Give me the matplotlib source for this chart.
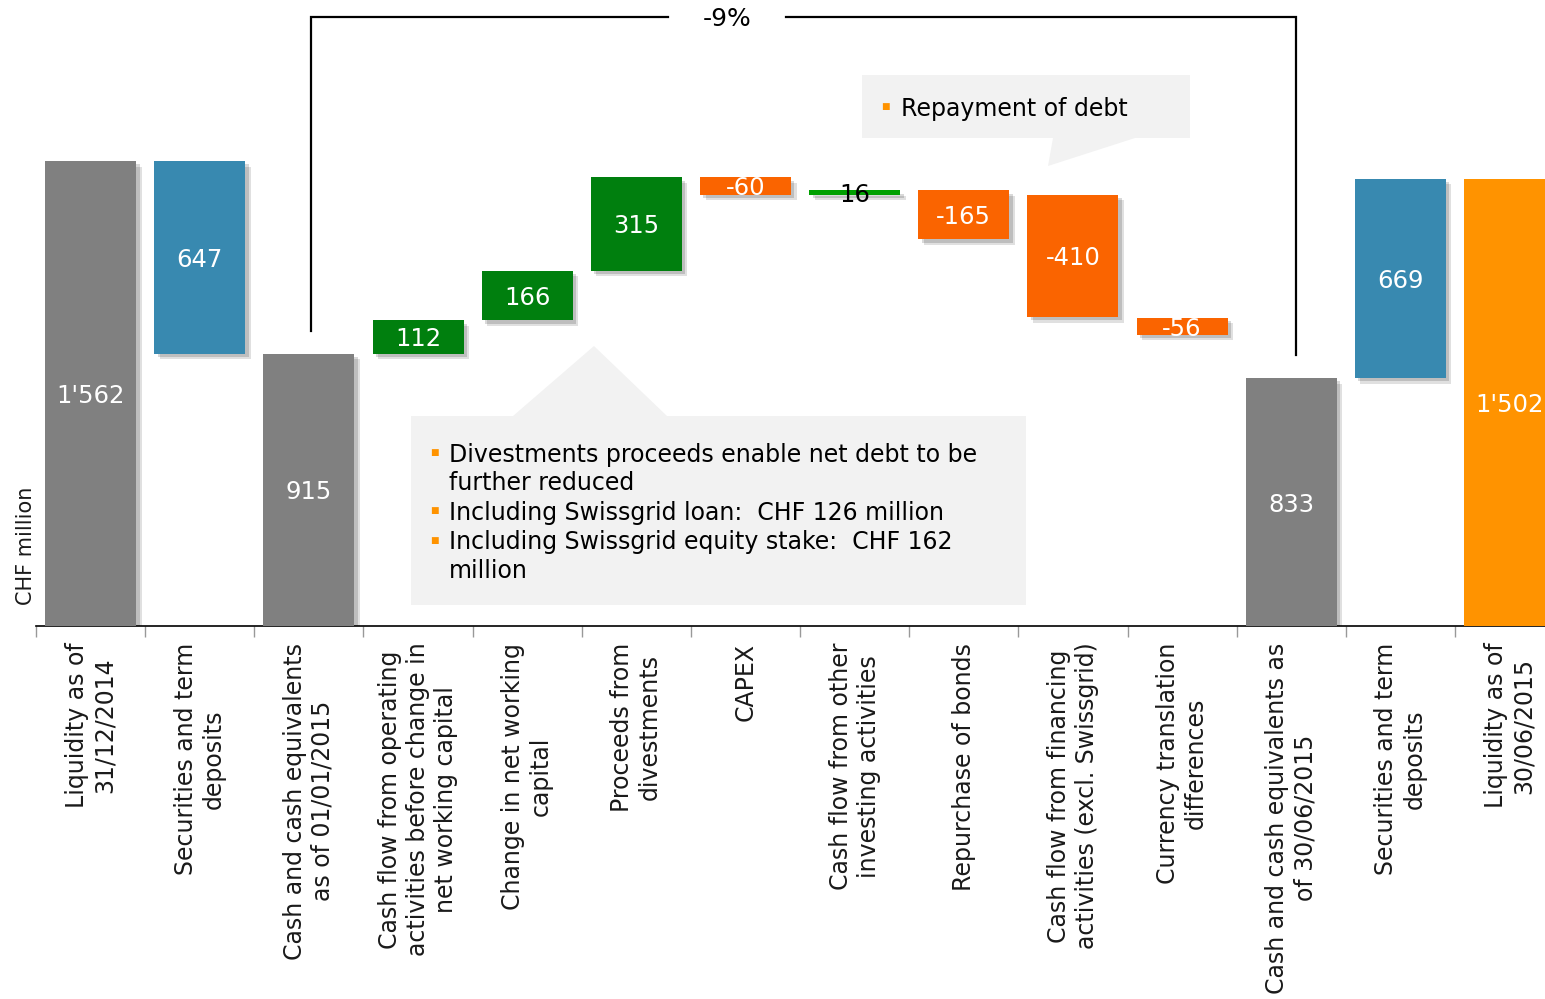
import matplotlib
matplotlib.use("Agg")
import matplotlib.pyplot as plt
import matplotlib.patheffects as pe
from matplotlib.patches import Polygon

# ---------------- data ----------------
categories = [
    "Liquidity as of\n31/12/2014",
    "Securities and term\ndeposits",
    "Cash and cash equivalents\nas of 01/01/2015",
    "Cash flow from operating\nactivities before change in\nnet working capital",
    "Change in net working\ncapital",
    "Proceeds from\ndivestments",
    "CAPEX",
    "Cash flow from other\ninvesting activities",
    "Repurchase of bonds",
    "Cash flow from financing\nactivities (excl. Swissgrid)",
    "Currency translation\ndifferences",
    "Cash and cash equivalents as\nof 30/06/2015",
    "Securities and term\ndeposits",
    "Liquidity as of\n30/06/2015",
]
values = [1562, 647, 915, 112, 166, 315, -60, 16, -165, -410, -56, 833, 669, 1502]
value_labels = ["1'562", "647", "915", "112", "166", "315", "-60", "16",
                "-165", "-410", "-56", "833", "669", "1'502"]
# bar extents as drawn in the reference (low, high)
bar_low = [0, 915, 0, 915, 1027, 1193, 1448, 1448, 1299, 1038, 979, 0, 833, 0]
bar_high = [1562, 1562, 915, 1027, 1193, 1508, 1508, 1464, 1464, 1448, 1035, 833, 1502, 1502]
kinds = ["total", "sec", "total", "pos", "pos", "pos", "neg", "pos_line",
         "neg", "neg", "neg", "total", "sec", "final"]
change_label = "-9%"

colors = {
    "total": "#808080",
    "sec": "#3889B0",
    "pos": "#007F0E",
    "pos_line": "#00A000",
    "neg": "#FA6400",
    "final": "#FF9300",
}

# ---------------- figure ----------------
W, H = 1545, 999
fig = plt.figure(figsize=(W / 100, H / 100), dpi=100)
plt.rcParams["font.family"] = ["DejaVu Sans"]

px_per_cat = 109.15
px_per_unit = 0.2977
ax_left_px, ax_base_px = 36, 626
ax = fig.add_axes([ax_left_px / W, (H - ax_base_px) / H,
                   (W - ax_left_px) / W, ax_base_px / H])

for s in ["top", "right", "left"]:
    ax.spines[s].set_visible(False)
ax.spines["bottom"].set_color("black")
ax.spines["bottom"].set_linewidth(1.2)
ax.set_yticks([])

xs = list(range(len(categories)))
ax.set_xticks(xs)
ax.set_xticklabels(categories, rotation=90, fontsize=17, color="#1a1a1a",
                   ha="center", va="top", multialignment="center")
ax.tick_params(axis="x", which="major", length=0, pad=12)
ax.set_xticks([x - 0.5 for x in xs], minor=True)
ax.tick_params(axis="x", which="minor", length=8, color="#999999", width=1)

shadow = [pe.SimplePatchShadow(offset=(4, -4), shadow_rgbFace="black", alpha=0.12),
          pe.SimplePatchShadow(offset=(2.5, -2.5), shadow_rgbFace="black", alpha=0.15),
          pe.Normal()]

bw = 91 / px_per_cat
for x, lo, hi, k, lab in zip(xs, bar_low, bar_high, kinds, value_labels):
    b = ax.bar(x, hi - lo, bottom=lo, width=bw, color=colors[k], zorder=3)
    for p in b:
        p.set_path_effects(shadow)
    tc = "black" if k == "pos_line" else "white"
    ax.text(x, (lo + hi) / 2, lab, ha="center", va="center_baseline", fontsize=17.5,
            color=tc, zorder=5)

ax.set_xlim(-0.5, -0.5 + (W - ax_left_px) / px_per_cat)
ax.set_ylim(0, ax_base_px / px_per_unit)

# -9% bracket
ytop = (ax_base_px - 17) / px_per_unit
lx, rx = 2.02, 11.04
ax.plot([lx, lx, 5.29], [bar_high[2] + 75, ytop, ytop], color="black", lw=1.6,
        clip_on=False, zorder=4, solid_joinstyle="miter")
ax.plot([6.37, rx, rx], [ytop, ytop, bar_high[11] + 77], color="black", lw=1.6,
        clip_on=False, zorder=4, solid_joinstyle="miter")
ax.text(5.83, ytop, change_label, ha="center", va="center_baseline", fontsize=18,
        color="black")


# ---------------- callouts ----------------
def fp(x, y):
    return (x / W, 1 - y / H)


box1 = [(411, 605), (1026, 605), (1026, 416), (667, 416), (594, 346), (513, 416), (411, 416)]
fig.patches.append(Polygon([fp(*p) for p in box1], closed=True, transform=fig.transFigure,
                           facecolor="#F2F2F2", edgecolor="none", zorder=1))
box2 = [(862, 75), (1190, 75), (1190, 138), (1135, 138), (1048, 166), (1053, 138), (862, 138)]
fig.patches.append(Polygon([fp(*p) for p in box2], closed=True, transform=fig.transFigure,
                           facecolor="#F2F2F2", edgecolor="none", zorder=1))

bullet_color = "#FF9300"
lines1 = [(455, "Divestments proceeds enable net debt to be", True),
          (483, "further reduced", False),
          (513, "Including Swissgrid loan:  CHF 126 million", True),
          (542, "Including Swissgrid equity stake:  CHF 162", True),
          (571, "million", False)]
for y, t, bul in lines1:
    if bul:
        fig.text(434 / W, 1 - (y - 2) / H, "■", fontsize=6.5, color=bullet_color,
                 ha="center", va="center")
    fig.text(449 / W, 1 - y / H, t, fontsize=17, color="black", ha="left", va="center")

fig.text(885 / W, 1 - 107 / H, "■", fontsize=6.5, color=bullet_color, ha="center", va="center")
fig.text(901 / W, 1 - 109 / H, "Repayment of debt", fontsize=17, color="black",
         ha="left", va="center")

fig.text(26 / W, 1 - 605 / H, "CHF million", rotation=90, fontsize=15, color="#1a1a1a",
         ha="center", va="bottom")

fig.savefig("out.png", dpi=100)
